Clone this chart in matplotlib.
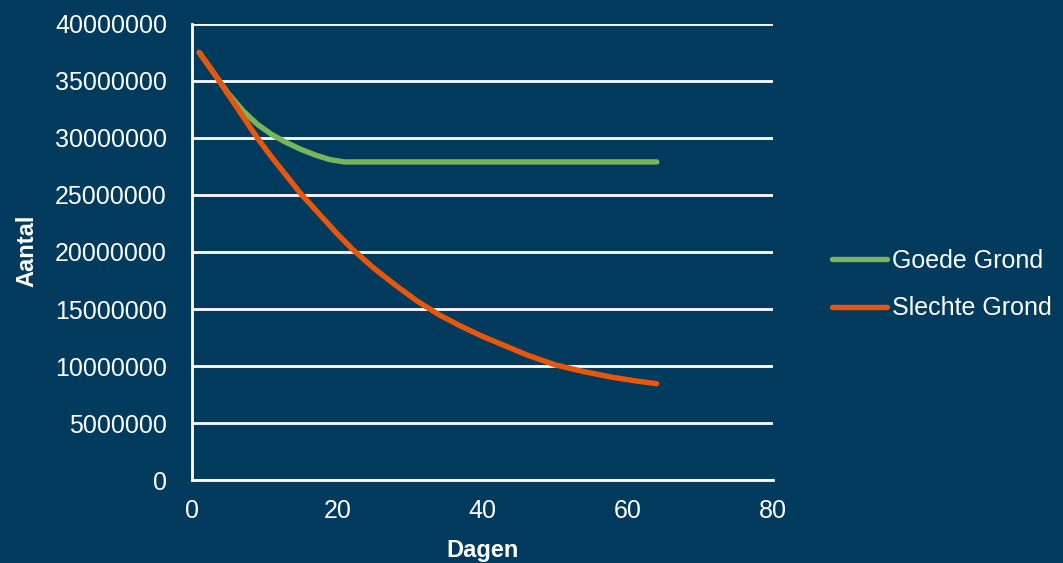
import matplotlib.pyplot as plt

BG = "#003A5C"
GREEN = "#79B55B"
ORANGE = "#E8560C"

# Goede Grond
good_days = [1, 3, 5, 7, 9, 11, 13, 15, 17, 19, 21, 30, 40, 50, 64]
good_vals = [37.5e6, 35.7e6, 33.9e6, 32.4e6, 31.2e6, 30.3e6, 29.6e6, 29.0e6, 28.5e6,
             28.1e6, 27.9e6, 27.9e6, 27.9e6, 27.9e6, 27.9e6]

# Slechte Grond
bad_days = [1, 3, 5, 7, 9, 11, 13, 15, 18, 20, 22, 25, 28, 31, 34, 37, 40, 43, 46,
            50, 54, 58, 61, 64]
bad_vals = [37.5e6, 35.7e6, 33.8e6, 31.9e6, 30.0e6, 28.3e6, 26.7e6, 25.1e6, 23.0e6,
            21.6e6, 20.3e6, 18.6e6, 17.1e6, 15.7e6, 14.5e6, 13.5e6, 12.6e6, 11.8e6,
            11.0e6, 10.1e6, 9.5e6, 9.0e6, 8.7e6, 8.45e6]

x_ticks = [0, 20, 40, 60, 80]
y_ticks = [0, 5e6, 10e6, 15e6, 20e6, 25e6, 30e6, 35e6, 40e6]

plt.rcParams["font.family"] = ["Liberation Sans", "DejaVu Sans"]

fig = plt.figure(figsize=(10.63, 5.63), dpi=100, facecolor=BG)
ax = fig.add_axes([0.1806, 0.1474, 0.7272 - 0.1806, 0.9574 - 0.1474])
ax.set_facecolor(BG)

ax.plot(good_days, good_vals, color=GREEN, lw=3.9, solid_capstyle="round",
        solid_joinstyle="round", label="Goede Grond", zorder=3)
ax.plot(bad_days, bad_vals, color=ORANGE, lw=3.9, solid_capstyle="round",
        solid_joinstyle="round", label="Slechte Grond", zorder=4)

ax.set_xlim(0, 80)
ax.set_ylim(0, 40e6)
ax.set_xticks(x_ticks)
ax.set_yticks(y_ticks)
ax.set_yticklabels([str(int(v)) for v in y_ticks])
ax.tick_params(colors="white", labelsize=18, length=0)
ax.tick_params(axis="y", pad=18)
ax.tick_params(axis="x", pad=14)

ax.grid(axis="y", color="white", lw=2)
ax.set_axisbelow(True)
for s in ["top", "right"]:
    ax.spines[s].set_visible(False)
ax.spines["left"].set_color("white")
ax.spines["left"].set_linewidth(2)
ax.spines["bottom"].set_color("white")
ax.spines["bottom"].set_linewidth(2)

ax.set_xlabel("Dagen", color="white", fontsize=17, fontweight="bold")
ax.set_ylabel("Aantal", color="white", fontsize=17, fontweight="bold")
ax.xaxis.set_label_coords(0.5, -0.1535)
ax.yaxis.set_label_coords(-0.284, 0.502)
ax.xaxis.label.set_va("center")
ax.yaxis.label.set_va("center")

leg = fig.legend(loc="center left", bbox_to_anchor=(0.7827, 0.4947), frameon=False,
                 fontsize=18, handlelength=2.2, handletextpad=0.2, labelspacing=0.95,
                 borderpad=0, borderaxespad=0)
for t in leg.get_texts():
    t.set_color("white")

fig.savefig("out.png", dpi=100, facecolor=BG)
